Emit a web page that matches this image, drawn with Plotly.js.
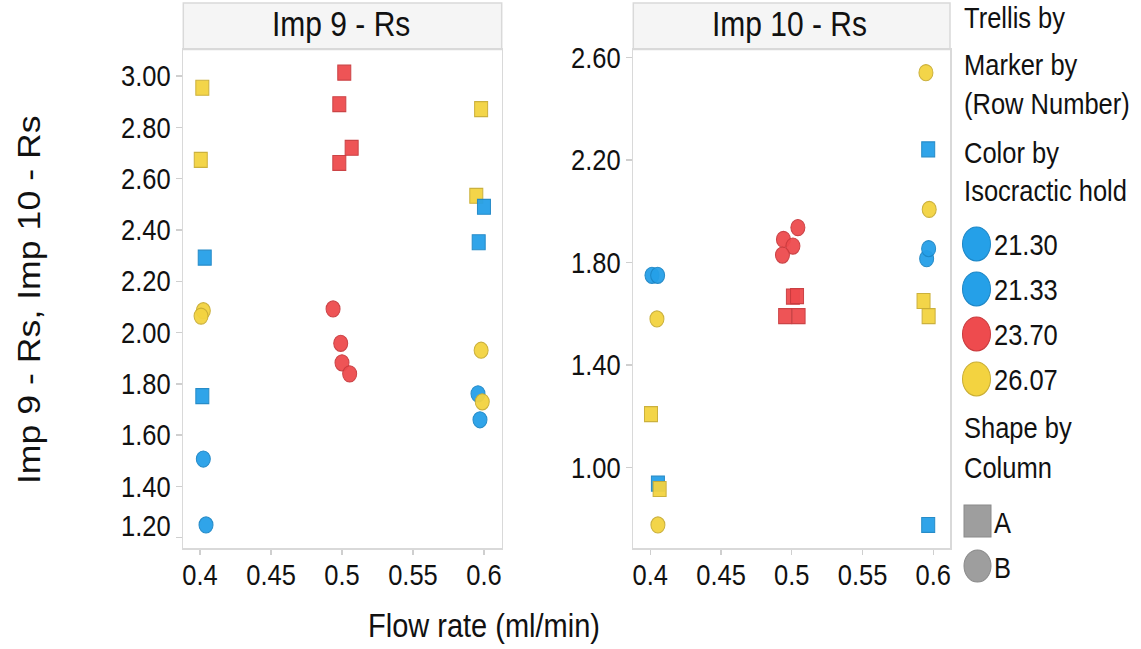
<!DOCTYPE html>
<html>
<head>
<meta charset="utf-8">
<script src="https://cdn.plot.ly/plotly-3.0.1.min.js"></script>
<style>
  html, body { margin: 0; padding: 0; background: #ffffff; }
  #wrap { width: 1141px; height: 649px; overflow: hidden; }
  #chart { width: 1141px; height: 564px; transform: scaleY(1.1507); transform-origin: 0 0; }
</style>
</head>
<body>
<div id="wrap"><div id="chart"></div></div>
<script>
// ---------- data ----------
// Panel "Imp 9 - Rs"
const imp9Flow = [0.4016, 0.5016, 0.4981, 0.5980, 0.5068, 0.4005, 0.4981, 0.5946, 0.6000, 0.5963, 0.4033,
                  0.4023, 0.4007, 0.4937, 0.4991, 0.5000, 0.5054, 0.5980, 0.4016, 0.5958, 0.5988, 0.5972, 0.4023, 0.4042];
const imp9Rs   = [2.954, 3.013, 2.890, 2.871, 2.720, 2.673, 2.661, 2.533, 2.490, 2.352, 2.292,
                  2.085, 2.064, 2.092, 1.958, 1.882, 1.839, 1.931, 1.752, 1.761, 1.730, 1.660, 1.507, 1.250];
const imp9Hold = ["26.07", "23.70", "23.70", "26.07", "23.70", "26.07", "23.70", "26.07", "21.33", "21.33", "21.30",
                  "26.07", "26.07", "23.70", "23.70", "23.70", "23.70", "26.07", "21.30", "21.33", "26.07", "21.33", "21.30", "21.30"];
const imp9Col  = ["A", "A", "A", "A", "A", "A", "A", "A", "A", "A", "A",
                  "B", "B", "B", "B", "B", "B", "B", "A", "B", "B", "B", "B", "B"];

// Panel "Imp 10 - Rs"
const imp10Flow = [0.5948, 0.5964, 0.5971, 0.5043, 0.4941, 0.5008, 0.4934, 0.5953, 0.5967, 0.4012, 0.4052,
                   0.5008, 0.5037, 0.4953, 0.5048, 0.5931, 0.5967, 0.4047, 0.4005, 0.4054, 0.4066, 0.4054, 0.5964];
const imp10Rs   = [2.540, 2.241, 2.007, 1.936, 1.890, 1.864, 1.829, 1.815, 1.854, 1.750, 1.750,
                   1.667, 1.669, 1.591, 1.591, 1.650, 1.591, 1.580, 1.209, 0.938, 0.917, 0.777, 0.777];
const imp10Hold = ["26.07", "21.33", "26.07", "23.70", "23.70", "23.70", "23.70", "21.33", "21.33", "21.30", "21.30",
                   "23.70", "23.70", "23.70", "23.70", "26.07", "26.07", "26.07", "26.07", "21.30", "26.07", "26.07", "21.33"];
const imp10Col  = ["B", "A", "B", "B", "B", "B", "B", "B", "B", "B", "B",
                   "A", "A", "A", "A", "A", "A", "B", "A", "A", "A", "B", "A"];

const panelTitles = ["Imp 9 - Rs", "Imp 10 - Rs"];
const holdLevels = ["21.30", "21.33", "23.70", "26.07"];
const columnLevels = ["A", "B"];
const flowTicks = [0.4, 0.45, 0.5, 0.55, 0.6];
const imp9Ticks = [1.2, 1.4, 1.6, 1.8, 2.0, 2.2, 2.4, 2.6, 2.8, 3.0];
const imp10Ticks = [1.0, 1.4, 1.8, 2.2, 2.6];

// ---------- styles ----------
const FONT = "Liberation Sans, Arial, Helvetica, sans-serif";
const holdFill = { "21.30": "#25A0E8", "21.33": "#25A0E8", "23.70": "#EE4B4E", "26.07": "#F3D340" };
const holdLine = { "21.30": "#1C86C6", "21.33": "#1C86C6", "23.70": "#C93A3D", "26.07": "#C9AD33" };
const colSymbol = { "A": "square", "B": "circle" };
const colSize = { "A": 13, "B": 14 };

function panelTrace(flow, rs, hold, col, xa, ya) {
  return {
    type: "scatter", mode: "markers", xaxis: xa, yaxis: ya, showlegend: false, hoverinfo: "x+y",
    x: flow, y: rs,
    marker: {
      symbol: col.map(c => colSymbol[c]),
      size: col.map(c => colSize[c]),
      color: hold.map(h => holdFill[h]),
      opacity: 0.95,
      line: { color: hold.map(h => holdLine[h]), width: 1 }
    }
  };
}

const data = [
  panelTrace(imp9Flow, imp9Rs, imp9Hold, imp9Col, "x", "y"),
  panelTrace(imp10Flow, imp10Rs, imp10Hold, imp10Col, "x2", "y2")
];

// reference pixel geometry -> paper fractions
const W = 1141, HREF = 649;
const px = v => v / W;
const py = v => 1 - v / HREF;

const L = [183.3, 501.7], R = [633.3, 950];
const TOP = 49.3, BOT = 548.3, HEAD_TOP = 3;

const axisLine = { showline: true, mirror: true, linecolor: "#D9D9D9", linewidth: 1.5, showgrid: false, zeroline: false };
const tickFont = { family: FONT, size: 25.5, color: "#111111" };

const xCommon = Object.assign({}, axisLine, {
  tickvals: flowTicks, ticktext: flowTicks.map(v => String(v)),
  ticks: "outside", ticklen: 4, tickcolor: "#CFCFCF", tickwidth: 1.2,
  tickfont: tickFont, ticklabelstandoff: -4
});
const yCommon = Object.assign({}, axisLine, {
  tickformat: ".2f", ticks: "outside", ticklen: 6, tickcolor: "#CFCFCF", tickwidth: 1.2,
  tickfont: tickFont
});

// the lowest label of the first panel is nudged up inside the frame, as in the reference
const imp9TickText = imp9Ticks.map((v, i) => i === 0 ? "" : v.toFixed(2));

const layout = {
  width: 1141, height: 564,
  margin: { l: 0, r: 0, t: 0, b: 0 },
  paper_bgcolor: "#ffffff", plot_bgcolor: "#ffffff",
  font: { family: FONT, color: "#111111" },
  xaxis: Object.assign({}, xCommon, { domain: [px(L[0]), px(L[1])], range: [0.3882, 0.6125], anchor: "y" }),
  yaxis: Object.assign({}, yCommon, { domain: [py(BOT), py(TOP)], range: [1.159, 3.104], tickvals: imp9Ticks, ticktext: imp9TickText, anchor: "x" }),
  xaxis2: Object.assign({}, xCommon, { domain: [px(R[0]), px(R[1])], range: [0.388, 0.6118], anchor: "y2" }),
  yaxis2: Object.assign({}, yCommon, { domain: [py(BOT), py(TOP)], range: [0.686, 2.631], tickvals: imp10Ticks, anchor: "x2" }),
  shapes: [],
  annotations: []
};

layout.annotations.push({
  xref: "paper", yref: "y", x: px(172.5), y: imp9Ticks[0], yshift: 10.5,
  xanchor: "right", yanchor: "middle", showarrow: false,
  text: imp9Ticks[0].toFixed(2), font: tickFont
});

// strip headers
[L, R].forEach((p, i) => {
  layout.shapes.push({
    type: "rect", xref: "paper", yref: "paper", layer: "below",
    x0: px(p[0]), x1: px(p[1]), y0: py(TOP), y1: py(HEAD_TOP),
    fillcolor: "#F5F5F5", line: { color: "#D9D9D9", width: 1.5 }
  });
  layout.annotations.push({
    xref: "paper", yref: "paper", x: px((p[0] + p[1]) / 2 - 2), y: py(24),
    xanchor: "center", yanchor: "middle", showarrow: false,
    text: panelTitles[i], font: { family: FONT, size: 30, color: "#111111" }
  });
});

// axis titles
layout.annotations.push({
  xref: "paper", yref: "paper", x: px(484), y: py(626), xanchor: "center", yanchor: "middle",
  showarrow: false, text: "Flow rate (ml/min)", font: { family: FONT, size: 29, color: "#111111" }
});
layout.annotations.push({
  xref: "paper", yref: "paper", x: px(30), y: py(300), xanchor: "center", yanchor: "middle",
  textangle: -90, showarrow: false, text: "Imp 9 - Rs, Imp 10 - Rs",
  font: { family: FONT, size: 31, color: "#111111" }
});

// legend panel
const legText = (t, y, x, size) => layout.annotations.push({
  xref: "paper", yref: "paper", x: px(x), y: py(y), xanchor: "left", yanchor: "middle",
  showarrow: false, text: t, font: { family: FONT, size: size, color: "#111111" }
});
legText("Trellis by", 17, 962, 25.5);
legText("Marker by", 65, 962, 25.5);
legText("(Row Number)", 103, 962, 25.5);
legText("Color by", 153, 962, 25.5);
legText("Isocractic hold", 191, 962, 25.5);
const holdY = [244, 289, 334, 379];
holdLevels.forEach((h, i) => {
  layout.shapes.push({
    type: "circle", xref: "paper", yref: "paper",
    x0: px(962.5), x1: px(990.5), y0: py(holdY[i] + 17), y1: py(holdY[i] - 17),
    fillcolor: holdFill[h], line: { color: holdLine[h], width: 1 }
  });
  legText(h, holdY[i] + 1, 992, 25.5);
});
legText("Shape by", 428, 962, 25.5);
legText("Column", 467, 962, 25.5);
const colY = [521, 566];
columnLevels.forEach((c, i) => {
  const y = colY[i];
  layout.shapes.push({
    type: c === "A" ? "rect" : "circle", xref: "paper", yref: "paper",
    x0: px(964), x1: px(991), y0: py(y + 16), y1: py(y - 16),
    fillcolor: "#9E9E9E", line: { color: "#8A8A8A", width: 1 }
  });
  legText(c, y + 1, 992, 25.5);
});

Plotly.newPlot("chart", data, layout, { displayModeBar: false, staticPlot: true });
</script>
</body>
</html>
